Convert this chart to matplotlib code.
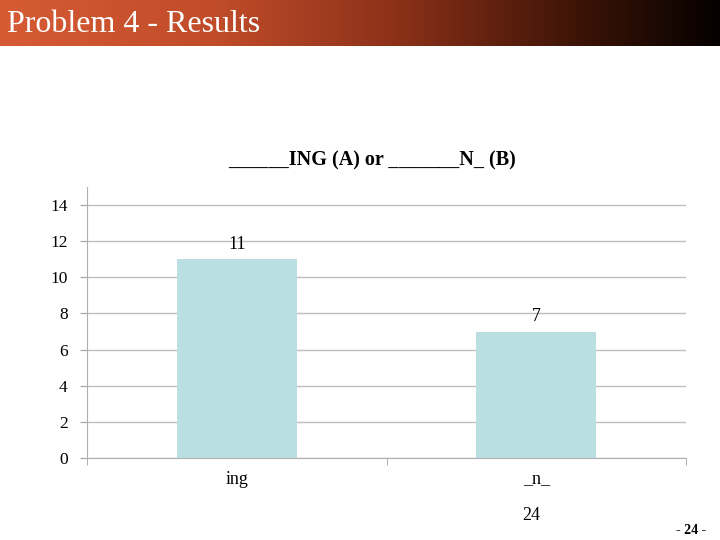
import numpy as np
import matplotlib
matplotlib.use("Agg")
import matplotlib.pyplot as plt
from matplotlib.colors import LinearSegmentedColormap

categories = ["ing", "_n_"]
counts = [11, 7]
y_ticks = [0, 2, 4, 6, 8, 10, 12, 14]

plt.rcParams["font.family"] = ["Liberation Serif", "DejaVu Serif"]

fig = plt.figure(figsize=(7.2, 5.4), dpi=100)
fig.patch.set_facecolor("white")

# Header bar with gradient
hdr = fig.add_axes([0, 1 - 46 / 540, 1, 46 / 540])
cmap = LinearSegmentedColormap.from_list(
    "hdr",
    [(0.0, "#d65b34"), (0.3, "#c04c2a"), (0.55, "#8c3119"),
     (0.8, "#3e1407"), (1.0, "#050100")],
)
hdr.imshow(np.linspace(0, 1, 512)[None, :], aspect="auto", cmap=cmap,
           extent=[0, 1, 0, 1])
hdr.set_xlim(0, 1)
hdr.set_ylim(0, 1)
hdr.axis("off")
hdr.text(7 / 720, 0.46, "Problem 4 - Results", color="white", fontsize=23,
         va="center", ha="left")

# Chart
ax = fig.add_axes([87 / 720, 1 - 458 / 540, 599 / 720, 271 / 540])
x = np.arange(len(categories))
ax.bar(x, counts, width=0.4, color="#b9dfe3", zorder=3)
for xi, v in zip(x, counts):
    ax.text(xi, v + 0.35, str(v), ha="center", va="bottom", fontsize=13)

ax.set_xlim(-0.5, 1.5)
ax.set_ylim(0, 15)
ax.set_yticks(y_ticks)
ax.set_yticklabels([str(t) for t in y_ticks], fontsize=12.5)
ax.set_xticks(x)
ax.set_xticklabels(categories, fontsize=13)
ax.set_xticks([-0.5, 0.5, 1.5], minor=True)
ax.tick_params(axis="x", which="major", length=0, pad=9)
ax.tick_params(axis="x", which="minor", length=5, color="#a0a0a0")
ax.tick_params(axis="y", length=5, color="#a0a0a0", pad=9)
ax.grid(axis="y", color="#bfbfbf", linewidth=1, zorder=0)
for s in ["top", "right"]:
    ax.spines[s].set_visible(False)
for s in ["left", "bottom"]:
    ax.spines[s].set_color("#b0b0b0")

fig.text(372 / 720, 1 - 160 / 540, "______ING (A) or _______N_ (B)",
         ha="center", va="center", fontsize=14.5, fontweight="bold")
fig.text(531 / 720, 1 - 515 / 540, "24", ha="center", va="center", fontsize=13)
fig.text(691 / 720, 1 - 530 / 540, "- 24 -", ha="center", va="center",
         fontsize=10, fontweight="bold")

fig.savefig("out.png", dpi=100)
